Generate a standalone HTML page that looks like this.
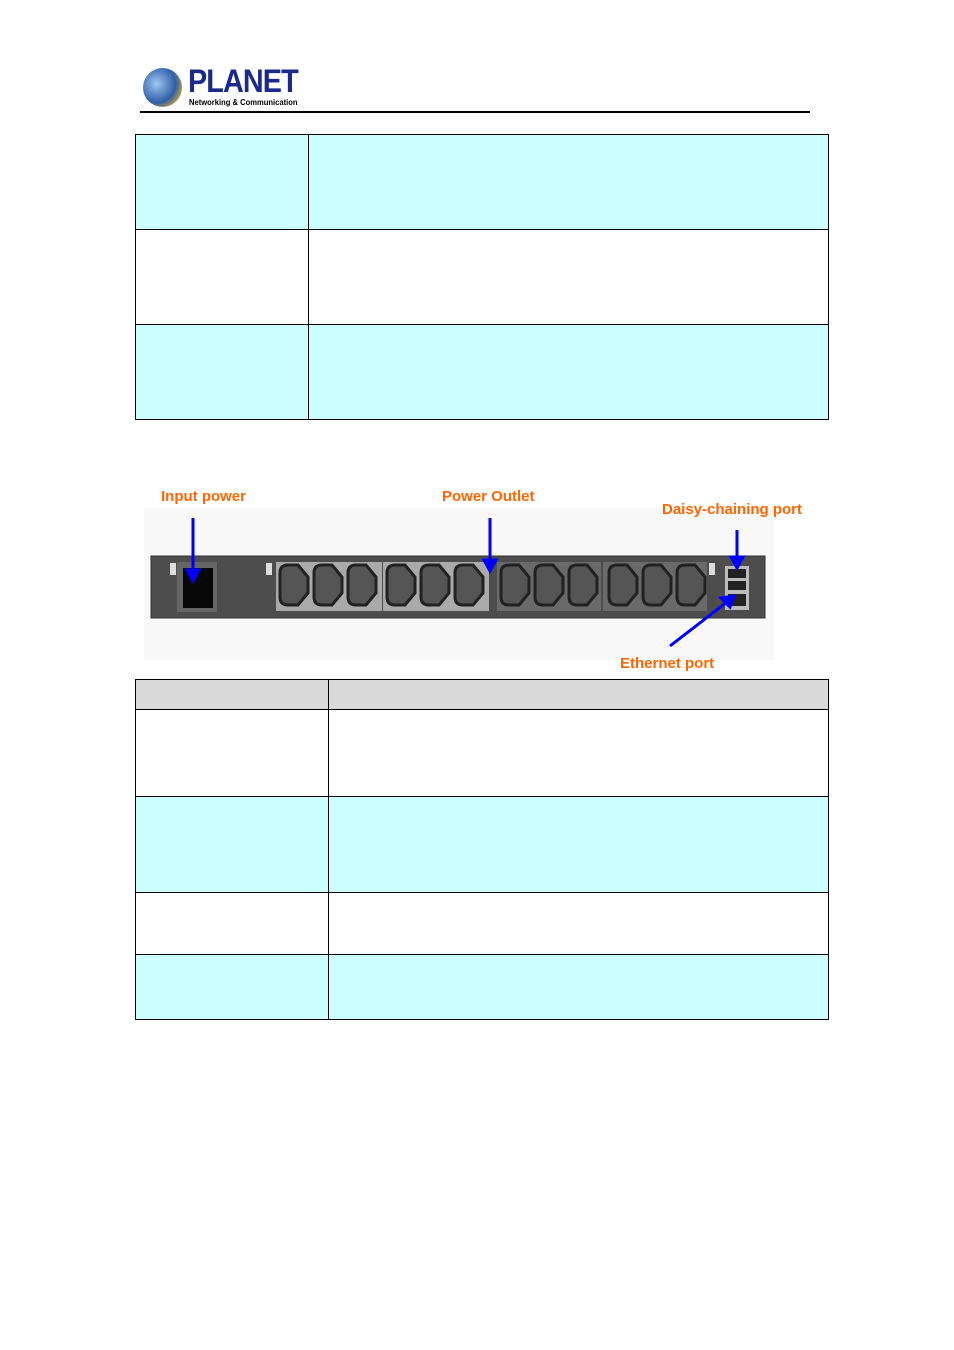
<!DOCTYPE html>
<html><head><style>
body{margin:0;width:954px;height:1350px;background:#fff;position:relative;font-family:"Liberation Sans",sans-serif;overflow:hidden}
.a{position:absolute}
.lbl{position:absolute;color:#ff6600;font-weight:bold;font-size:15px}
</style></head><body>
<div class="a" style="left:143px;top:68px;width:39px;height:39px;border-radius:50%;background:radial-gradient(circle at 35% 40%,#9ec6f0,#2f5fa8 55%,#c9a040 80%,#e8c870)"></div>
<div class="a" style="left:188px;top:63px;font-size:32px;font-weight:bold;color:#1a2a8c;letter-spacing:-1px;transform:scaleX(0.9);transform-origin:left">PLANET</div>
<div class="a" style="left:189px;top:98px;font-size:8px;font-weight:bold;color:#000;transform:scaleX(0.95);transform-origin:left">Networking &amp; Communication</div>
<div class="a" style="left:140px;top:111px;width:670px;height:2px;background:#000"></div>

<svg class="a" style="left:0;top:0" width="954" height="1350">
<g stroke="#000" stroke-width="1">
<rect x="135.5" y="134.5" width="693" height="95" fill="#ccffff"/>
<rect x="135.5" y="229.5" width="693" height="95" fill="#fff"/>
<rect x="135.5" y="324.5" width="693" height="95" fill="#ccffff"/>
<line x1="308.5" y1="134" x2="308.5" y2="420"/>
<rect x="135.5" y="679.5" width="693" height="30" fill="#d9d9d9"/>
<rect x="135.5" y="709.5" width="693" height="87" fill="#fff"/>
<rect x="135.5" y="796.5" width="693" height="96" fill="#ccffff"/>
<rect x="135.5" y="892.5" width="693" height="62" fill="#fff"/>
<rect x="135.5" y="954.5" width="693" height="65" fill="#ccffff"/>
<line x1="328.5" y1="679" x2="328.5" y2="1020"/>
</g>
<rect x="144" y="508" width="630" height="152" fill="#f8f8f8"/>
<rect x="151" y="556" width="614" height="62" fill="#4d4d4d" stroke="#333"/>
<rect x="177" y="562" width="40" height="50" fill="#666"/>
<rect x="183" y="568" width="30" height="40" fill="#080808"/>
<rect x="170" y="563" width="6" height="12" fill="#ddd"/>
<rect x="276" y="562" width="106" height="49" fill="#aaa"/>
<rect x="383" y="562" width="106" height="49" fill="#aaa"/>
<rect x="497" y="562" width="104" height="49" fill="#6a6a6a"/>
<rect x="603" y="562" width="104" height="49" fill="#6a6a6a"/>
<rect x="266" y="563" width="6" height="12" fill="#ddd"/>
<rect x="709" y="563" width="6" height="12" fill="#ddd"/>
<g fill="#555" stroke="#222" stroke-width="3">
<path d="M280 573 q0-8 8-8 h10 l10 12 v16 l-10 12 h-10 q-8 0-8-8z"/>
<path d="M314 573 q0-8 8-8 h10 l10 12 v16 l-10 12 h-10 q-8 0-8-8z"/>
<path d="M348 573 q0-8 8-8 h10 l10 12 v16 l-10 12 h-10 q-8 0-8-8z"/>
<path d="M387 573 q0-8 8-8 h10 l10 12 v16 l-10 12 h-10 q-8 0-8-8z"/>
<path d="M421 573 q0-8 8-8 h10 l10 12 v16 l-10 12 h-10 q-8 0-8-8z"/>
<path d="M455 573 q0-8 8-8 h10 l10 12 v16 l-10 12 h-10 q-8 0-8-8z"/>
<path d="M501 573 q0-8 8-8 h10 l10 12 v16 l-10 12 h-10 q-8 0-8-8z"/>
<path d="M535 573 q0-8 8-8 h10 l10 12 v16 l-10 12 h-10 q-8 0-8-8z"/>
<path d="M569 573 q0-8 8-8 h10 l10 12 v16 l-10 12 h-10 q-8 0-8-8z"/>
<path d="M609 573 q0-8 8-8 h10 l10 12 v16 l-10 12 h-10 q-8 0-8-8z"/>
<path d="M643 573 q0-8 8-8 h10 l10 12 v16 l-10 12 h-10 q-8 0-8-8z"/>
<path d="M677 573 q0-8 8-8 h10 l10 12 v16 l-10 12 h-10 q-8 0-8-8z"/>
</g>
<rect x="725" y="566" width="24" height="44" fill="#bbb"/>
<rect x="728" y="569" width="18" height="9" fill="#222"/>
<rect x="728" y="581" width="18" height="9" fill="#222"/>
<rect x="728" y="594" width="18" height="12" fill="#222"/>
<g stroke="#0000ff" stroke-width="3" fill="#0000ff">
<line x1="193" y1="518" x2="193" y2="572"/><path d="M187 570 L199 570 L193 581z"/>
<line x1="490" y1="518" x2="490" y2="562"/><path d="M484 560 L496 560 L490 571z"/>
<line x1="737" y1="530" x2="737" y2="559"/><path d="M731 557 L743 557 L737 568z"/>
<line x1="670" y1="646" x2="727" y2="602"/><path d="M721 598 L730 607 L734 596z"/>
</g>
</svg>
<div class="lbl" style="left:161px;top:488px">Input power</div>
<div class="lbl" style="left:442px;top:488px">Power Outlet</div>
<div class="lbl" style="left:662px;top:501px">Daisy-chaining port</div>
<div class="lbl" style="left:620px;top:655px">Ethernet port</div>
</body></html>
